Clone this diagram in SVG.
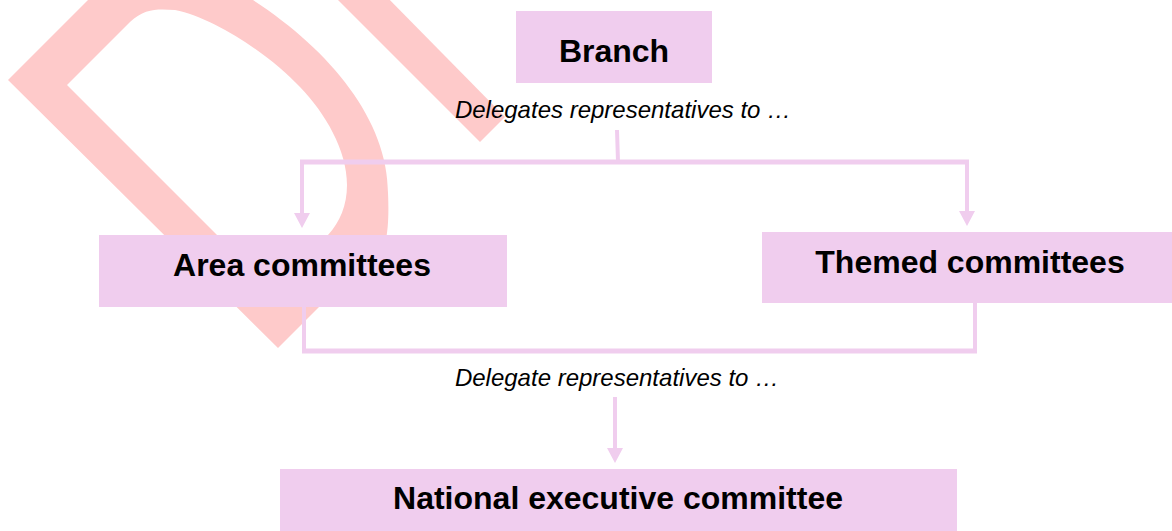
<svg xmlns="http://www.w3.org/2000/svg" width="1172" height="531" viewBox="0 0 1172 531">
  <style>
    .box { fill: #f0cdee; }
    .node-text { font-family: "Liberation Sans", Arial, sans-serif; font-weight: bold; font-size: 32px; fill: #000; text-anchor: middle; }
    .edge-label { font-family: "Liberation Sans", Arial, sans-serif; font-style: italic; font-size: 24px; fill: #000; text-anchor: middle; }
    .wire { fill: none; stroke: #f0cdee; stroke-linecap: butt; stroke-linejoin: miter; }
    .h { stroke-width: 5; }
    .v { stroke-width: 4; }
    .mark { fill: #fecaca; }
  </style>
  <defs>
    <marker id="arrow" markerUnits="userSpaceOnUse" markerWidth="15" markerHeight="16" viewBox="0 0 15 16" refX="0" refY="8" orient="auto">
      <path d="M0,0 L15,8 L0,16 Z" fill="#f0cdee"/>
    </marker>
  </defs>

  <rect width="1172" height="531" fill="#ffffff"/>

  <!-- background mark: rotated letter and diagonal bar -->
  <g id="backdrop">
    <path class="mark" fill-rule="evenodd" d="M8,80 L100,-12 C170,-60 220,-25 253,0 C330,50 388,120 388,193 C389,215 388,228 386,240 L278,348 Z
             M67,85 L130,22 C145,8 158,9 175,10 C215,18 270,55 300,87 C325,113 347,150 347,185 C347,205 340,222 328,235 L272,290 Z"/>
    <path class="mark" d="M328,-10 L380,-10 L505,117 L480,142 Z"/>
  </g>

  <!-- connectors -->
  <g id="connectors">
    <path class="wire v" d="M617,130 L618,162"/>
    <path class="wire h" d="M300,162 L969,162"/>
    <path class="wire v" d="M302,160 L302,213" marker-end="url(#arrow)"/>
    <path class="wire v" d="M967,160 L967,211" marker-end="url(#arrow)"/>
    <path class="wire v" d="M304,305 L304,353"/>
    <path class="wire v" d="M975,302 L975,353"/>
    <path class="wire h" d="M302,351 L977,351"/>
    <path class="wire v" d="M615,397 L615,448" marker-end="url(#arrow)"/>
    <text class="edge-label" x="623" y="118">Delegates representatives to …</text>
    <text class="edge-label" x="617" y="386">Delegate representatives to …</text>
  </g>

  <g id="branch">
    <rect class="box" x="516" y="11" width="196" height="72"/>
    <text class="node-text" x="614" y="62">Branch</text>
  </g>

  <g id="area-committees">
    <rect class="box" x="99" y="235" width="408" height="72"/>
    <text class="node-text" x="302" y="276">Area committees</text>
  </g>

  <g id="themed-committees">
    <rect class="box" x="762" y="232" width="414" height="71"/>
    <text class="node-text" x="970" y="273">Themed committees</text>
  </g>

  <g id="national-executive-committee">
    <rect class="box" x="280" y="469" width="677" height="62"/>
    <text class="node-text" x="618" y="509">National executive committee</text>
  </g>
</svg>
